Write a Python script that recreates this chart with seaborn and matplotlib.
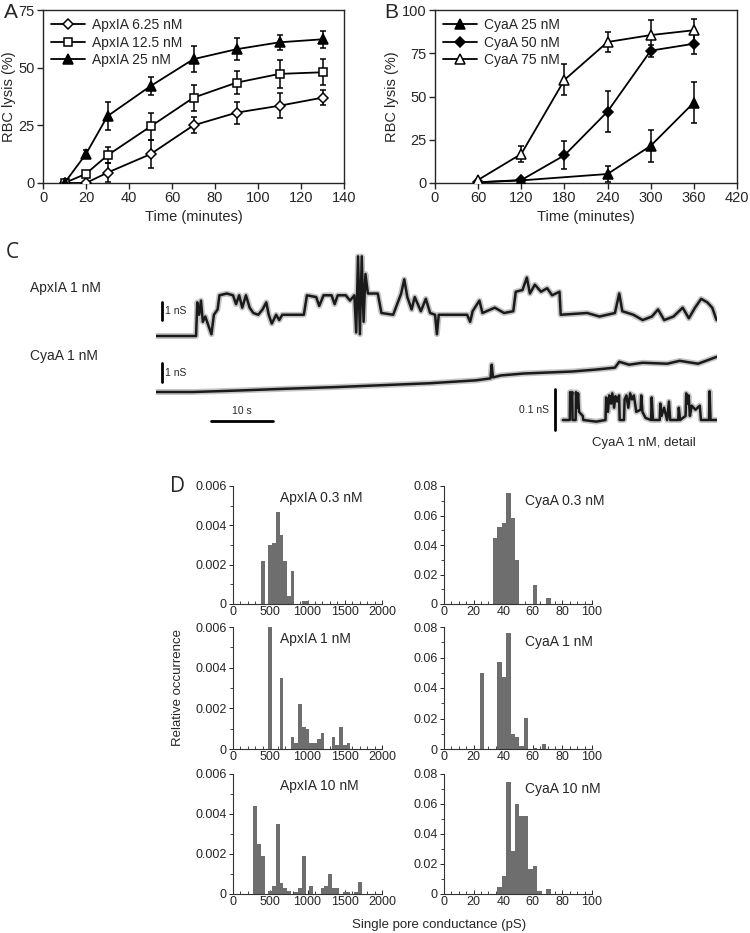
"""Hemolysis kinetics (A, B), conductance traces (C) and pore conductance histograms (D)."""

import matplotlib

matplotlib.use("Agg")
import matplotlib.pyplot as plt
import seaborn as sns
from matplotlib.ticker import MultipleLocator

sns.set_theme(style="ticks")
plt.rcParams["font.family"] = ["Liberation Sans", "DejaVu Sans"]

W, H = 750, 933

# --- Panel A: ApxIA lysis of red blood cells ---
apx_time = [10, 20, 30, 50, 70, 90, 110, 130]
apx_6_25 = [0, 0, 4.5, 12.5, 25, 30.5, 33.5, 37]
apx_6_25_err = [0, 0.5, 4, 6, 3.5, 4.8, 5.5, 3.2]
apx_12_5 = [0, 4, 12, 24.5, 37, 43.5, 47.3, 48]
apx_12_5_err = [0, 1, 3.5, 5.8, 5.7, 4.9, 6, 5.6]
apx_25 = [0, 12.6, 29, 42, 53.7, 58, 61, 62.3]
apx_25_err = [0, 1.5, 6, 4, 5.5, 4.8, 3.2, 3.8]

# --- Panel B: CyaA lysis of red blood cells ---
cya_time = [60, 120, 180, 240, 300, 360]
cya25_time = [60, 120, 240, 300, 360]
cya_25 = [0.4, 1.5, 5.2, 21.5, 46.5]
cya_25_err = [0, 0, 4.5, 9.3, 11.7]
cya_50 = [0.4, 1.7, 16, 41.3, 76.5, 80.5]
cya_50_err = [0, 0, 8, 11.7, 3.5, 6.2]
cya_75 = [1.8, 16.8, 59.6, 81.5, 85.5, 88.3]
cya_75_err = [0, 4.5, 9, 6, 9, 6.7]

# --- Panel C: conductance records (time in s, conductance in nS) ---
apx_trace_t = [0, 6.5, 6.7, 7.0, 7.3, 7.6, 8.0, 8.5, 9.0, 9.4, 10.0, 10.3, 11.5, 12.5,
               13.0, 13.5, 14.0, 14.6, 15.2, 15.8, 16.6, 17.3, 17.9, 18.3, 18.8, 19.5,
               20.0, 20.5, 24.0, 24.5, 26.0, 26.5, 27.2, 28.5, 29.0, 29.5, 30.8, 31.5,
               32.2, 32.5, 32.8, 33.1, 33.4, 33.7, 34.0, 34.4, 36.0, 36.6, 38.5, 39.8,
               40.3, 40.8, 41.5, 42.0, 43.0, 43.8, 44.5, 45.3, 45.6, 45.9, 50.5, 51.0,
               51.4, 52.5, 53.0, 55.0, 56.5, 58.0, 58.4, 59.5, 60.2, 60.7, 61.5, 62.5,
               63.5, 64.3, 65.5, 65.7, 70.0, 72.0, 74.5, 75.2, 75.7, 77.5, 79.0, 80.5,
               81.5, 82.5, 84.0, 85.5, 86.5, 87.5, 88.5, 89.5, 90.3, 91.0]
apx_trace_g = [0, 0, 1.9, 1.2, 2.0, 0.8, 1.1, 0.6, 0.1, 1.2, 1.5, 2.3, 2.4, 2.3,
               1.8, 2.3, 1.6, 2.3, 1.6, 1.3, 1.2, 1.5, 1.9, 1.2, 0.7, 1.2,
               0.9, 1.2, 1.2, 2.3, 2.2, 1.7, 2.3, 2.3, 1.8, 2.3, 2.3, 2.0,
               2.3, 0.2, 4.5, 0.1, 4.5, 0.8, 3.5, 2.4, 2.4, 1.3, 1.2, 2.4,
               3.2, 2.2, 1.5, 2.2, 1.4, 2.1, 1.3, 1.2, 0.1, 1.2, 1.2, 0.8,
               1.4, 2.0, 1.3, 1.6, 1.3, 1.4, 2.5, 2.6, 3.3, 2.4, 2.9, 2.5,
               2.7, 2.3, 2.5, 1.2, 1.3, 1.1, 1.3, 2.4, 1.4, 1.2, 0.9, 1.1,
               1.5, 0.9, 1.1, 1.6, 1.0, 1.6, 2.1, 1.9, 1.6, 0.9]
cya_trace_t = [0, 6, 13.7, 21.4, 29, 36.8, 44.5, 52, 54.3, 54.5, 54.7, 56, 59.8, 63.7,
               67.5, 71.4, 74.5, 75.2, 76.8, 79, 83, 85, 88, 91]
cya_trace_g = [0, 0, 0.08, 0.17, 0.25, 0.35, 0.45, 0.6, 0.7, 1.4, 0.75, 0.85, 0.95, 1.0,
               1.05, 1.15, 1.25, 1.55, 1.4, 1.5, 1.45, 1.6, 1.45, 1.8]
detail_t = [0, 1.1, 1.15, 1.35, 1.5, 1.55, 2.05, 2.1, 2.3, 2.45, 2.6, 3.2, 3.3, 5.4,
            6.9, 7.0, 7.3, 7.5, 7.8, 8.0, 8.3, 8.5, 8.8, 9.1, 9.2, 9.9, 10.0, 10.3,
            10.6, 10.9, 11.2, 11.5, 11.9, 12.6, 12.7, 12.9, 13.4, 14.3, 14.4, 14.6,
            15.7, 15.8, 16.0, 16.4, 16.9, 17.2, 17.4, 18.7, 18.8, 19.0, 19.9, 20.0,
            20.2, 20.4, 20.6, 20.9, 21.5, 22.2, 22.4, 23.7, 23.8, 23.95, 25]
detail_g = [0, 0, 0.068, 0.05, 0.068, 0, 0, 0.068, 0.03, 0.065, 0.02, 0.01, 0, -0.004,
            0, 0.055, 0.02, 0.06, 0.04, 0.065, 0.03, 0.058, 0.045, 0.06, 0, 0, 0.05, 0.06,
            0.03, 0.065, 0.05, 0.06, 0.02, 0.025, 0.06, 0.02, 0.005, 0, 0.055, 0,
            0, 0.04, 0.01, 0.03, 0, 0.045, 0, 0, 0.03, 0, 0.01, 0.065,
            0.04, 0.06, 0.01, 0.035, 0.025, 0.035, 0, 0, 0.07, 0, 0]

# --- Panel D: single pore conductance histograms (bin centre, relative occurrence) ---
apx03_ps = [400, 500, 550, 600, 650, 700, 750, 800, 950, 1000]
apx03_occ = [0.0022, 0.003, 0.0031, 0.0047, 0.0035, 0.0022, 0.0004, 0.0017, 0.00015, 0.00015]
apx1_ps = [500, 650, 800, 850, 900, 950, 1000, 1050, 1100, 1150, 1200, 1350, 1400, 1450,
           1500, 1550]
apx1_occ = [0.006, 0.0035, 0.0006, 0.0003, 0.0022, 0.0011, 0.001, 0.0003, 0.0003, 0.0005,
            0.0008, 0.0006, 0.0002, 0.0011, 0.0002, 0.0003]
apx10_ps = [300, 350, 400, 500, 550, 600, 650, 700, 750, 850, 900, 950, 1050, 1200, 1250,
            1300, 1350, 1400, 1500, 1550, 1650, 1700]
apx10_occ = [0.0044, 0.0025, 0.0019, 0.00013, 0.0004, 0.0035, 0.00055, 0.0003, 0.00013,
             0.0001, 0.0003, 0.0019, 0.0004, 0.0003, 0.0004, 0.001, 0.0003, 0.0003, 0.0001,
             0.0001, 0.0001, 0.0006]
cya03_ps = [34.5, 37.5, 40.5, 43.5, 46.5, 49.5, 61.5, 70.5]
cya03_occ = [0.045, 0.052, 0.055, 0.075, 0.058, 0.03, 0.013, 0.0038]
cya1_ps = [25.5, 37.5, 40.5, 43.5, 46.5, 49.5, 52.5, 55.5, 61.5, 67.5]
cya1_occ = [0.050, 0.057, 0.047, 0.076, 0.010, 0.0076, 0.0022, 0.0206, 0.0009, 0.0035]
cya10_ps = [37.5, 40.5, 43.5, 46.5, 49.5, 52.5, 55.5, 58.5, 61.5, 64.5, 70.5]
cya10_occ = [0.0045, 0.012, 0.075, 0.029, 0.060, 0.052, 0.052, 0.017, 0.019, 0.002, 0.0033]

BAR_GREY = "#6e6e6e"
NARROW = ["Liberation Sans Narrow", "Liberation Sans", "DejaVu Sans"]

fig = plt.figure(figsize=(W / 100, H / 100), dpi=100)


def px_axes(x0, x1, y0, y1):
    """Axes from a pixel box (top-left origin)."""
    return fig.add_axes([x0 / W, 1 - y1 / H, (x1 - x0) / W, (y1 - y0) / H])


def ftext(x, y, s, **kw):
    kw.setdefault("va", "center")
    fig.text(x / W, 1 - y / H, s, **kw)


def lysis_panel(ax, series, xmax, xstep, ymax, ystep):
    for label, xs, ys, err, marker, face in series:
        ax.errorbar(xs, ys, yerr=err, fmt="none", ecolor="black",
                    elinewidth=1.1, capsize=2.5, capthick=1.1, zorder=2)
        size = {"D": 5.5, "s": 6.0, "^": 6.5}[marker]
        sns.lineplot(x=xs, y=ys, ax=ax, color="black", linewidth=1.3,
                     marker=marker, markersize=size, markerfacecolor=face,
                     markeredgecolor="black", markeredgewidth=1.1,
                     label=label, zorder=3, sort=False, estimator=None)
    ax.set_xlim(0, xmax)
    ax.set_ylim(0, ymax)
    ax.xaxis.set_major_locator(MultipleLocator(xstep))
    ax.yaxis.set_major_locator(MultipleLocator(ystep))
    ax.tick_params(labelsize=10.5, length=4, width=1, direction="out", pad=2)
    for sp in ax.spines.values():
        sp.set_linewidth(1)
    ax.set_xlabel("Time (minutes)", fontsize=10.5, labelpad=3)
    ax.set_ylabel("RBC lysis (%)", fontsize=10.5, labelpad=2)
    ax.legend(loc="upper left", frameon=False, fontsize=10, handlelength=2.4,
              labelspacing=0.25, borderaxespad=0.4, handletextpad=0.5, borderpad=0.2)


# Panel A
ax_a = px_axes(43, 344, 10, 183)
lysis_panel(ax_a, [
    ("ApxIA 6.25 nM", apx_time, apx_6_25, apx_6_25_err, "D", "white"),
    ("ApxIA 12.5 nM", apx_time, apx_12_5, apx_12_5_err, "s", "white"),
    ("ApxIA 25 nM", apx_time, apx_25, apx_25_err, "^", "black"),
], 140, 20, 75, 25)
ftext(4, 12, "A", fontsize=15)

# Panel B
ax_b = px_axes(435, 737, 10, 183)
lysis_panel(ax_b, [
    ("CyaA 25 nM", cya25_time, cya_25, cya_25_err, "^", "black"),
    ("CyaA 50 nM", cya_time, cya_50, cya_50_err, "D", "black"),
    ("CyaA 75 nM", cya_time, cya_75, cya_75_err, "^", "white"),
], 420, 60, 100, 25)
ftext(384, 12, "B", fontsize=15)

# Panel C: traces share one time scale
T0_PX, PX_PER_S, T_END = 156, 6.16, 91


def trace_axes(xlim, ylim, base_px, px_per_unit):
    x0 = T0_PX + xlim[0] * PX_PER_S
    x1 = T0_PX + xlim[1] * PX_PER_S
    ax = px_axes(x0, x1, base_px - ylim[1] * px_per_unit, base_px - ylim[0] * px_per_unit)
    ax.set_xlim(*xlim)
    ax.set_ylim(*ylim)
    ax.axis("off")
    return ax


def draw_trace(ax, t, g):
    # soft grey band stands in for the recording noise around the black core
    sns.lineplot(x=t, y=g, ax=ax, color="#c4c4c4", linewidth=4.2,
                 sort=False, estimator=None)
    sns.lineplot(x=t, y=g, ax=ax, color="#1a1a1a", linewidth=1.8,
                 sort=False, estimator=None)


ax_c1 = trace_axes((0, T_END), (-0.5, 5.0), 336, 17.7)
draw_trace(ax_c1, apx_trace_t, apx_trace_g)
ax_c1.plot([0.9, 0.9], [0.9, 1.9], color="black", lw=2)
ax_c1.text(1.5, 1.4, "1 nS", fontsize=7.5, va="center", family=NARROW)

ax_c2 = trace_axes((0, T_END), (-2.2, 2.5), 392, 19.5)
draw_trace(ax_c2, cya_trace_t, cya_trace_g)
ax_c2.plot([0.9, 0.9], [0.5, 1.5], color="black", lw=2)
ax_c2.text(1.5, 1.0, "1 nS", fontsize=7.5, va="center", family=NARROW)
ax_c2.plot([9.0, 19.0], [-1.5, -1.5], color="black", lw=2, clip_on=False)
ax_c2.text(14.0, -1.0, "10 s", fontsize=7.5, ha="center", va="center", family=NARROW)

# detail record sits at the right, with its own conductance scale
ax_c3 = px_axes(563 - 2 * PX_PER_S, 563 + 25 * PX_PER_S, 420 - 0.1 * 410, 420 + 0.04 * 410)
ax_c3.set_xlim(-2, 25)
ax_c3.set_ylim(-0.04, 0.1)
ax_c3.axis("off")
draw_trace(ax_c3, detail_t, detail_g)
ax_c3.plot([-1.3, -1.3], [-0.024, 0.076], color="black", lw=2)
ax_c3.text(-2.2, 0.024, "0.1 nS", fontsize=7.5, ha="right", va="center", family=NARROW)
ax_c3.text(13.1, -0.055, "CyaA 1 nM, detail", fontsize=9.5, ha="center", va="center",
           clip_on=False)

ftext(6, 252, "C", fontsize=15, family=["Open Sans", "DejaVu Sans"])
ftext(30, 288, "ApxIA 1 nM", fontsize=10, family=NARROW)
ftext(30, 356, "CyaA 1 nM", fontsize=10, family=NARROW)

# Panel D: histograms
rows = [(486, 604), (627, 749), (774, 894)]
apx_hists = [(apx03_ps, apx03_occ, "ApxIA 0.3 nM"), (apx1_ps, apx1_occ, "ApxIA 1 nM"),
             (apx10_ps, apx10_occ, "ApxIA 10 nM")]
cya_hists = [(cya03_ps, cya03_occ, "CyaA 0.3 nM"), (cya1_ps, cya1_occ, "CyaA 1 nM"),
             (cya10_ps, cya10_occ, "CyaA 10 nM")]


def hist_panel(ax, centres, occ, binwidth, binrange, xmax, xstep, xminor, ymax, ystep, ylabels):
    sns.histplot(x=centres, weights=occ, binwidth=binwidth, binrange=binrange, ax=ax,
                 color=BAR_GREY, alpha=1, linewidth=0, edgecolor=None)
    ax.set_xlim(0, xmax)
    ax.set_ylim(0, ymax)
    ax.xaxis.set_major_locator(MultipleLocator(xstep))
    ax.xaxis.set_minor_locator(MultipleLocator(xminor))
    ax.set_yticks([i * ystep for i in range(len(ylabels))])
    ax.set_yticklabels(ylabels)
    ax.yaxis.set_minor_locator(MultipleLocator(ystep / 2))
    ax.set_xlabel("")
    ax.set_ylabel("")
    ax.spines["top"].set_visible(False)
    ax.spines["right"].set_visible(False)
    for sp in ("left", "bottom"):
        ax.spines[sp].set_linewidth(0.8)
        ax.spines[sp].set_color("#333333")
    ax.tick_params(axis="both", which="major", labelsize=9, length=3, width=0.7, pad=1.5)
    ax.tick_params(axis="both", which="minor", length=2, width=0.6)
    ax.tick_params(axis="x", which="both", direction="in")


for (y0, y1), (ps, occ, name) in zip(rows, apx_hists):
    ax = px_axes(233, 382, y0, y1)
    hist_panel(ax, ps, occ, 50, (25, 2025), 2000, 500, 100, 0.006, 0.002,
               ["0", "0.002", "0.004", "0.006"])
    ftext(280, y0 + 12, name, fontsize=10)

for (y0, y1), (ps, occ, name) in zip(rows, cya_hists):
    ax = px_axes(444, 592, y0, y1)
    hist_panel(ax, ps, occ, 3, (0, 99), 100, 20, 5, 0.08, 0.02,
               ["0", "0.02", "0.04", "0.06", "0.08"])
    ftext(525, y0 + 15, name, fontsize=10)

ftext(170, 487, "D", fontsize=15, family=["Open Sans", "DejaVu Sans"])
ftext(178, 688, "Relative occurrence", fontsize=9.5, rotation=90, ha="center")
ftext(439, 925, "Single pore conductance (pS)", fontsize=9.5, ha="center")

fig.savefig("out.png", dpi=100)
plt.close(fig)
